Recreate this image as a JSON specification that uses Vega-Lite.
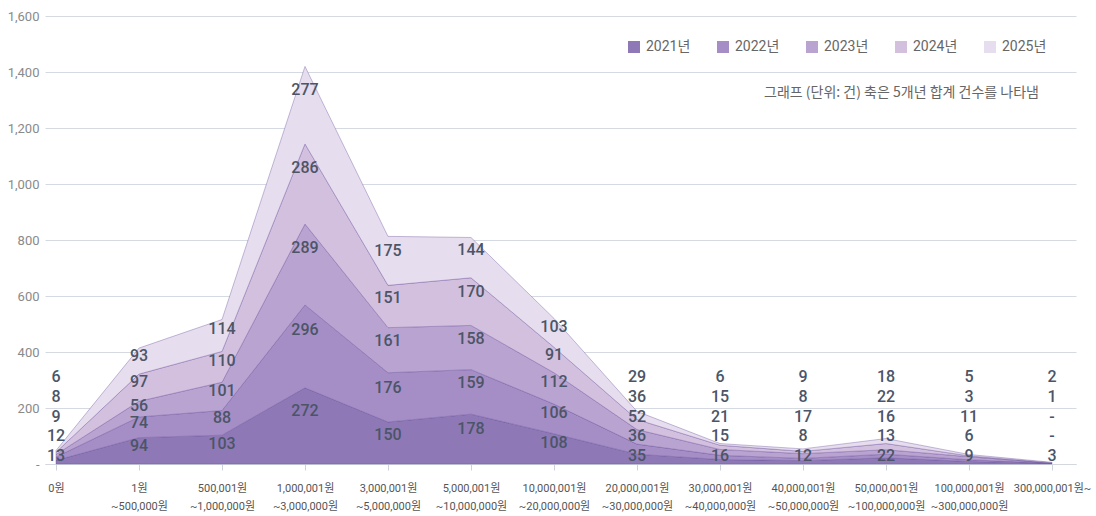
{
  "$schema": "https://vega.github.io/schema/vega-lite/v6.json",
  "width": 1031,
  "height": 448,
  "autosize": {"type": "none"},
  "padding": {"left": 45, "top": 16, "right": 20, "bottom": 52},
  "background": "#ffffff",
  "config": {
    "view": {"stroke": null},
    "font": "Roboto",
    "axisX": {
      "labelFont": "Roboto, Noto Sans CJK KR",
      "labelFontSize": 11,
      "labelColor": "#555555",
      "labelAngle": 0,
      "labelLineHeight": 18,
      "labelPadding": 12,
      "tickSize": 6,
      "tickColor": "#cdd3dc",
      "domainColor": "#d3d8e0",
      "grid": false,
      "title": null
    },
    "axisY": {
      "labelFont": "Roboto",
      "labelFontSize": 13,
      "labelColor": "#8a8a8a",
      "labelPadding": 6,
      "domain": false,
      "ticks": false,
      "gridColor": "#d5dae2",
      "title": null
    }
  },
  "layer": [
    {
      "data": {
        "values": [
          {"cat": "0원", "series": "2021년", "value": 13},
          {"cat": "0원", "series": "2022년", "value": 12},
          {"cat": "0원", "series": "2023년", "value": 9},
          {"cat": "0원", "series": "2024년", "value": 8},
          {"cat": "0원", "series": "2025년", "value": 6},
          {"cat": "1원 ~500,000원", "series": "2021년", "value": 94},
          {"cat": "1원 ~500,000원", "series": "2022년", "value": 74},
          {"cat": "1원 ~500,000원", "series": "2023년", "value": 56},
          {"cat": "1원 ~500,000원", "series": "2024년", "value": 97},
          {"cat": "1원 ~500,000원", "series": "2025년", "value": 93},
          {"cat": "500,001원 ~1,000,000원", "series": "2021년", "value": 103},
          {"cat": "500,001원 ~1,000,000원", "series": "2022년", "value": 88},
          {"cat": "500,001원 ~1,000,000원", "series": "2023년", "value": 101},
          {"cat": "500,001원 ~1,000,000원", "series": "2024년", "value": 110},
          {"cat": "500,001원 ~1,000,000원", "series": "2025년", "value": 114},
          {"cat": "1,000,001원 ~3,000,000원", "series": "2021년", "value": 272},
          {"cat": "1,000,001원 ~3,000,000원", "series": "2022년", "value": 296},
          {"cat": "1,000,001원 ~3,000,000원", "series": "2023년", "value": 289},
          {"cat": "1,000,001원 ~3,000,000원", "series": "2024년", "value": 286},
          {"cat": "1,000,001원 ~3,000,000원", "series": "2025년", "value": 277},
          {"cat": "3,000,001원 ~5,000,000원", "series": "2021년", "value": 150},
          {"cat": "3,000,001원 ~5,000,000원", "series": "2022년", "value": 176},
          {"cat": "3,000,001원 ~5,000,000원", "series": "2023년", "value": 161},
          {"cat": "3,000,001원 ~5,000,000원", "series": "2024년", "value": 151},
          {"cat": "3,000,001원 ~5,000,000원", "series": "2025년", "value": 175},
          {"cat": "5,000,001원 ~10,000,000원", "series": "2021년", "value": 178},
          {"cat": "5,000,001원 ~10,000,000원", "series": "2022년", "value": 159},
          {"cat": "5,000,001원 ~10,000,000원", "series": "2023년", "value": 158},
          {"cat": "5,000,001원 ~10,000,000원", "series": "2024년", "value": 170},
          {"cat": "5,000,001원 ~10,000,000원", "series": "2025년", "value": 144},
          {"cat": "10,000,001원 ~20,000,000원", "series": "2021년", "value": 108},
          {"cat": "10,000,001원 ~20,000,000원", "series": "2022년", "value": 106},
          {"cat": "10,000,001원 ~20,000,000원", "series": "2023년", "value": 112},
          {"cat": "10,000,001원 ~20,000,000원", "series": "2024년", "value": 91},
          {"cat": "10,000,001원 ~20,000,000원", "series": "2025년", "value": 103},
          {"cat": "20,000,001원 ~30,000,000원", "series": "2021년", "value": 35},
          {"cat": "20,000,001원 ~30,000,000원", "series": "2022년", "value": 36},
          {"cat": "20,000,001원 ~30,000,000원", "series": "2023년", "value": 52},
          {"cat": "20,000,001원 ~30,000,000원", "series": "2024년", "value": 36},
          {"cat": "20,000,001원 ~30,000,000원", "series": "2025년", "value": 29},
          {"cat": "30,000,001원 ~40,000,000원", "series": "2021년", "value": 16},
          {"cat": "30,000,001원 ~40,000,000원", "series": "2022년", "value": 15},
          {"cat": "30,000,001원 ~40,000,000원", "series": "2023년", "value": 21},
          {"cat": "30,000,001원 ~40,000,000원", "series": "2024년", "value": 15},
          {"cat": "30,000,001원 ~40,000,000원", "series": "2025년", "value": 6},
          {"cat": "40,000,001원 ~50,000,000원", "series": "2021년", "value": 12},
          {"cat": "40,000,001원 ~50,000,000원", "series": "2022년", "value": 8},
          {"cat": "40,000,001원 ~50,000,000원", "series": "2023년", "value": 17},
          {"cat": "40,000,001원 ~50,000,000원", "series": "2024년", "value": 8},
          {"cat": "40,000,001원 ~50,000,000원", "series": "2025년", "value": 9},
          {"cat": "50,000,001원 ~100,000,000원", "series": "2021년", "value": 22},
          {"cat": "50,000,001원 ~100,000,000원", "series": "2022년", "value": 13},
          {"cat": "50,000,001원 ~100,000,000원", "series": "2023년", "value": 16},
          {"cat": "50,000,001원 ~100,000,000원", "series": "2024년", "value": 22},
          {"cat": "50,000,001원 ~100,000,000원", "series": "2025년", "value": 18},
          {"cat": "100,000,001원 ~300,000,000원", "series": "2021년", "value": 9},
          {"cat": "100,000,001원 ~300,000,000원", "series": "2022년", "value": 6},
          {"cat": "100,000,001원 ~300,000,000원", "series": "2023년", "value": 11},
          {"cat": "100,000,001원 ~300,000,000원", "series": "2024년", "value": 3},
          {"cat": "100,000,001원 ~300,000,000원", "series": "2025년", "value": 5},
          {"cat": "300,000,001원~", "series": "2021년", "value": 3},
          {"cat": "300,000,001원~", "series": "2022년", "value": 0},
          {"cat": "300,000,001원~", "series": "2023년", "value": 0},
          {"cat": "300,000,001원~", "series": "2024년", "value": 1},
          {"cat": "300,000,001원~", "series": "2025년", "value": 2}
        ]
      },
      "transform": [
        {"stack": "value", "groupby": ["cat"], "sort": [{"field": "series", "order": "ascending"}], "as": ["y0", "y1"]},
        {"window": [{"op": "row_number", "as": "rank"}], "groupby": ["cat"], "sort": [{"field": "series", "order": "ascending"}]},
        {"calculate": "max(datum.y1 - 0.3 * datum.value, 29 + (datum.rank - 1) * 70)", "as": "labelY"}
      ],
      "layer": [
        {
          "mark": {"type": "area", "interpolate": "linear", "stroke": "#5e4494", "strokeOpacity": 0.35, "strokeWidth": 1},
          "encoding": {
            "x": {
              "field": "cat",
              "type": "ordinal",
              "sort": null,
              "scale": {
                "type": "point",
                "domain": ["0원", "1원 ~500,000원", "500,001원 ~1,000,000원", "1,000,001원 ~3,000,000원", "3,000,001원 ~5,000,000원", "5,000,001원 ~10,000,000원", "10,000,001원 ~20,000,000원", "20,000,001원 ~30,000,000원", "30,000,001원 ~40,000,000원", "40,000,001원 ~50,000,000원", "50,000,001원 ~100,000,000원", "100,000,001원 ~300,000,000원", "300,000,001원~"],
                "padding": 0.2108,
                "align": 0.314
              },
              "axis": {"labelExpr": "split(datum.label, ' ')"}
            },
            "y": {
              "field": "y1",
              "type": "quantitative",
              "scale": {"domain": [0, 1600], "nice": false},
              "axis": {"values": [0, 200, 400, 600, 800, 1000, 1200, 1400, 1600], "labelExpr": "datum.value == 0 ? '-' : format(datum.value, ',')"}
            },
            "y2": {"field": "y0"},
            "color": {
              "field": "series",
              "type": "nominal",
              "scale": {
                "domain": ["2021년", "2022년", "2023년", "2024년", "2025년"],
                "range": ["#8e79b6", "#a58ec5", "#b9a3d0", "#d3c0de", "#e6ddee"]
              },
              "legend": {
                "orient": "none",
                "legendX": 582,
                "legendY": 24,
                "direction": "horizontal",
                "symbolType": "square",
                "symbolSize": 144,
                "symbolStrokeWidth": 0,
                "symbolOpacity": 1,
                "labelFont": "Roboto, Noto Sans CJK KR",
                "labelFontSize": 14,
                "labelColor": "#666666",
                "labelOffset": 5,
                "columnPadding": 25,
                "title": null
              }
            },
            "order": {"field": "series"}
          }
        },
        {
          "mark": {"type": "text", "align": "center", "baseline": "middle", "font": "Roboto", "fontSize": 16, "fontWeight": 500, "color": "#4b5567"},
          "encoding": {
            "x": {"field": "cat", "type": "ordinal", "sort": null},
            "y": {"field": "labelY", "type": "quantitative"},
            "text": {"condition": {"test": "datum.value === 0", "value": "-"}, "field": "value", "type": "quantitative"}
          }
        }
      ]
    },
    {
      "data": {"values": [{"cat": "300,000,001원~", "level": 1325, "note": "그래프 (단위: 건) 축은 5개년 합계 건수를 나타냄"}]},
      "mark": {"type": "text", "align": "right", "baseline": "middle", "dx": -13, "font": "Noto Sans CJK KR", "fontSize": 14, "color": "#666666"},
      "encoding": {
        "x": {"field": "cat", "type": "ordinal", "sort": null},
        "y": {"field": "level", "type": "quantitative"},
        "text": {"field": "note"}
      }
    }
  ]
}
